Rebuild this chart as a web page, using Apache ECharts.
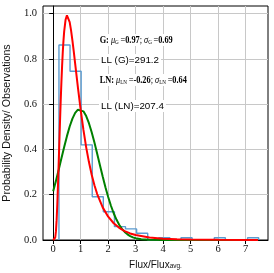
<!DOCTYPE html>
<html><head><meta charset="utf-8">
<script src="https://cdn.jsdelivr.net/npm/echarts@6/dist/echarts.min.js"></script>
<style>html,body{margin:0;padding:0;background:#fff}#c{width:274px;height:273px}</style>
</head><body><div id="c"></div>
<script>
// histogram (density)
const binEdges = [0.21,0.613,1.017,1.42,1.823,2.227,2.63,3.033,3.437,3.84,4.243,4.647,5.05,5.453,5.857,6.26,6.663,7.067,7.47];
const binHeights = [0.861,0.745,0.42,0.191,0.125,0.059,0.049,0.030,0,0.01,0,0.01,0,0,0.01,0,0,0.01];
// log-normal fit curve (red)
const lnX = [0,0.05,0.075,0.1,0.125,0.15,0.175,0.2,0.225,0.25,0.275,0.3,0.325,0.35,0.375,0.4,0.45,0.5,0.55,0.6,0.65,0.7,0.75,0.8,0.9,1.0,1.1,1.2,1.3,1.4,1.5,1.6,1.8,2.0,2.2,2.4,2.6,2.8,3.0,3.5,4.0,4.5,5.0,6.0,7.0,7.45];
const lnY = [0,0.0013,0.011,0.038,0.0877,0.158,0.243,0.338,0.435,0.53,0.619,0.70,0.771,0.832,0.8815,0.921,0.972,0.9915,0.986,0.962,0.9255,0.88,0.830,0.778,0.673,0.574,0.486,0.409,0.344,0.288,0.242,0.203,0.144,0.103,0.074,0.054,0.0395,0.029,0.022,0.011,0.0057,0.0031,0.0018,0.0006,0.0002,0.0002];
// gaussian fit curve (green)
const gX = [0,0.1,0.2,0.3,0.4,0.5,0.6,0.7,0.8,0.9,0.97,1.1,1.2,1.3,1.4,1.5,1.6,1.7,1.8,1.9,2.0,2.1,2.2,2.3,2.4,2.5,2.6,2.7,2.8,2.9,3.0,3.2,3.5,4.0,5.0,6.0,7.45];
const gY = [0.215,0.261,0.310,0.361,0.411,0.4585,0.501,0.5356,0.561,0.5752,0.578,0.568,0.547,0.5157,0.476,0.4305,0.381,0.3304,0.280,0.2331,0.190,0.1513,0.118,0.0902,0.0675,0.0495,0.0355,0.0249,0.0172,0.0116,0.0076,0.0031,0.0007,0.00004,0,0,0];
const xTicks = [0,1,2,3,4,5,6,7];
const yTicks = [0,0.2,0.4,0.6,0.8,1.0];

const histPts = [[binEdges[0],0]];
for (let i=0;i<binHeights.length;i++){
  histPts.push([binEdges[i],binHeights[i]]);
  histPts.push([binEdges[i+1],binHeights[i]]);
}
histPts.push([binEdges[binEdges.length-1],0]);

const chart = echarts.init(document.getElementById('c'));
const serif = 'Liberation Serif';
const sans = 'Liberation Sans';
const mathRich = {
  b:{fontFamily:serif,fontSize:10,fontWeight:'bold',fill:'#000'},
  i:{fontFamily:serif,fontSize:10,fontStyle:'italic',fill:'#000'},
  n:{fontFamily:serif,fontSize:10,fill:'#000'},
  s:{fontFamily:serif,fontSize:6.2,fill:'#000',verticalAlign:'bottom'}
};
const ts = '\u2009';
chart.setOption({
  animation:false,
  backgroundColor:'#fff',
  grid:{left:43,top:6,right:6,bottom:33,outerBoundsMode:'none',containLabel:false,show:true,borderColor:'#000',borderWidth:1,backgroundColor:'transparent'},
  xAxis:{type:'value',min:-0.37,max:7.81,
    axisLine:{lineStyle:{color:'#000',width:1}},
    axisTick:{customValues:xTicks,length:4,lineStyle:{color:'#000'}},
    axisLabel:{customValues:xTicks,margin:4,fontFamily:serif,fontSize:10.5,color:'#111'},
    splitLine:{show:true,lineStyle:{color:'#c8c8c8',width:1}},
    name:'{a|Flux/Flux}{s|avg.}',nameLocation:'middle',nameGap:17,
    nameTextStyle:{fontFamily:sans,fontSize:10,color:'#111',rich:{a:{fontFamily:sans,fontSize:10,color:'#111'},s:{fontFamily:sans,fontSize:6.5,color:'#111',verticalAlign:'bottom'}}}
  },
  yAxis:{type:'value',min:0,max:1.033,
    axisLine:{show:true,lineStyle:{color:'#000',width:1}},
    axisTick:{show:true,customValues:yTicks,length:4,lineStyle:{color:'#000'}},
    axisLabel:{customValues:yTicks,margin:6,fontFamily:serif,fontSize:10.5,color:'#111',formatter:v=>v.toFixed(1)},
    splitLine:{show:true,lineStyle:{color:'#c8c8c8',width:1}},
    name:'Probability Density/ Observations',nameLocation:'middle',nameGap:23,
    nameTextStyle:{fontFamily:sans,fontSize:10.7,color:'#111'}
  },
  series:[
    {type:'line',data:histPts,symbol:'none',lineStyle:{color:'#5b9bd0',width:1.4},z:2},
    {type:'line',data:gX.map((x,i)=>[x,gY[i]]),symbol:'none',lineStyle:{color:'#008000',width:2},z:3},
    {type:'line',data:lnX.map((x,i)=>[x,lnY[i]]),symbol:'none',lineStyle:{color:'#ff0000',width:2},z:4}
  ],
  graphic:[
    {type:'text',left:98,top:34,z:100,scaleX:0.83,style:{text:'{b|G:}{n| }{i|μ}{s|G}{n|'+ts+'=}{b|0.97}{n|; }{i|σ}{s|G}{n|'+ts+'=}{b|0.69}',
      backgroundColor:'#fff',padding:[1,2],rich:mathRich,font:'10px '+serif,fill:'#000'}},
    {type:'text',left:99,top:54,z:100,style:{text:'LL (G)=291.2',font:'9.8px '+sans,fill:'#000',backgroundColor:'#fff',padding:[1,2]}},
    {type:'text',left:98,top:74,z:100,scaleX:0.83,style:{text:'{b|LN:}{n| }{i|μ}{s|LN}{n|'+ts+'=}{b|-0.26}{n|; }{i|σ}{s|LN}{n|'+ts+'=}{b|0.64}',
      backgroundColor:'#fff',padding:[1,2],rich:mathRich,font:'10px '+serif,fill:'#000'}},
    {type:'text',left:99,top:100,z:100,style:{text:'LL (LN)=207.4',font:'9.8px '+sans,fill:'#000',backgroundColor:'#fff',padding:[1,2]}}
  ]
});
</script></body></html>
